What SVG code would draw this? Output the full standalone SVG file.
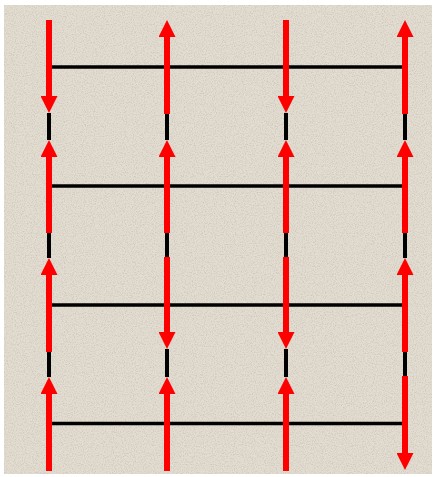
<svg xmlns="http://www.w3.org/2000/svg" width="435" height="477" viewBox="0 0 435 477">
  <style>
    .wire { stroke: #000; stroke-width: 4; fill: none; }
    .rung { stroke: #000; stroke-width: 3.5; fill: none; }
    .cur { stroke: #ff0000; stroke-width: 6; fill: none; marker-end: url(#arr); }
  </style>
  <defs>
    <marker id="arr" viewBox="0 0 17 17" refX="0" refY="8.5" markerWidth="17" markerHeight="17" markerUnits="userSpaceOnUse" orient="auto">
      <path d="M0,0 L17,8.5 L0,17 z" fill="#ff0000"/>
    </marker>
    <filter id="grain" x="0" y="0" width="100%" height="100%">
      <feTurbulence type="fractalNoise" baseFrequency="0.9" numOctaves="2" seed="3" result="n"/>
      <feColorMatrix in="n" type="matrix" values="0 0 0 0 0.35  0 0 0 0 0.32  0 0 0 0 0.28  0 0 0 -2.2 1.25"/>
      <feComposite in2="SourceGraphic" operator="in"/>
    </filter>
  </defs>
  <rect x="0" y="0" width="435" height="477" fill="#ffffff"/>
  <g id="background">
    <rect x="4" y="5" width="428" height="469" fill="#e3dcd0"/>
    <rect x="4" y="5" width="428" height="469" fill="#e3dcd0" filter="url(#grain)" opacity="0.35"/>
  </g>
  <g id="rungs">
    <line class="rung" x1="49" y1="67" x2="405" y2="67"/>
    <line class="rung" x1="49" y1="186" x2="405" y2="186"/>
    <line class="rung" x1="49" y1="305" x2="405" y2="305"/>
    <line class="rung" x1="49" y1="423.5" x2="405" y2="423.5"/>
  </g>
  <g id="gaps">
    <line class="wire" x1="49" y1="113" x2="49" y2="140"/>
    <line class="wire" x1="49" y1="233" x2="49" y2="258"/>
    <line class="wire" x1="49" y1="352" x2="49" y2="377"/>
    <line class="wire" x1="167" y1="114" x2="167" y2="140"/>
    <line class="wire" x1="167" y1="233" x2="167" y2="257"/>
    <line class="wire" x1="167" y1="349" x2="167" y2="377"/>
    <line class="wire" x1="286" y1="113" x2="286" y2="140"/>
    <line class="wire" x1="286" y1="233" x2="286" y2="257"/>
    <line class="wire" x1="286" y1="349" x2="286" y2="377"/>
    <line class="wire" x1="405" y1="114" x2="405" y2="140"/>
    <line class="wire" x1="405" y1="233" x2="405" y2="258"/>
    <line class="wire" x1="405" y1="352" x2="405" y2="376"/>
  </g>
  <g id="column-1">
    <path class="cur" d="M49,20 V96"/>
    <path class="cur" d="M49,233 V157"/>
    <path class="cur" d="M49,352 V275"/>
    <path class="cur" d="M49,471 V394"/>
  </g>
  <g id="column-2">
    <path class="cur" d="M167,114 V37"/>
    <path class="cur" d="M167,233 V157"/>
    <path class="cur" d="M167,257 V332"/>
    <path class="cur" d="M167,471 V394"/>
  </g>
  <g id="column-3">
    <path class="cur" d="M286,20 V96"/>
    <path class="cur" d="M286,233 V157"/>
    <path class="cur" d="M286,257 V332"/>
    <path class="cur" d="M286,471 V394"/>
  </g>
  <g id="column-4">
    <path class="cur" d="M405,114 V37"/>
    <path class="cur" d="M405,233 V157"/>
    <path class="cur" d="M405,352 V275"/>
    <path class="cur" d="M405,376 V453"/>
  </g>
</svg>
